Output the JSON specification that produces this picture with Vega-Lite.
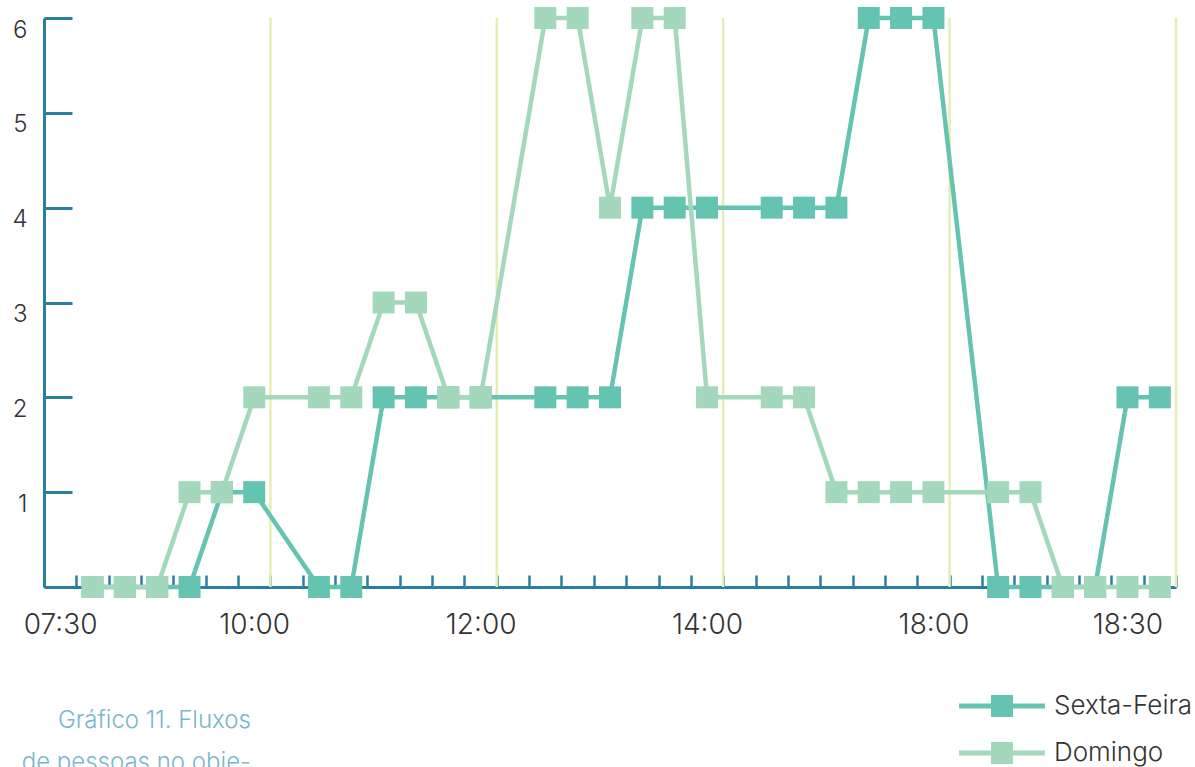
{
  "$schema": "https://vega.github.io/schema/vega-lite/v6.json",
  "width": 1132,
  "height": 569,
  "autosize": {"type": "none"},
  "padding": {"left": 44, "top": 18, "right": 19, "bottom": 180},
  "config": {
    "view": {"stroke": null},
    "font": "Inter",
    "axisX": {
      "title": null, "tickBand": "extent", "tickSize": -12, "tickWidth": 2.5,
      "tickColor": "#2a7fa0", "domainColor": "#2a7fa0", "domainWidth": 3,
      "labelAngle": 0, "labelOverlap": false,
      "labelFontSize": 28, "labelColor": "#333333", "labelFont": "Inter", "labelFontWeight": 300,
      "labelPadding": 36
    }
  },
  "title": {
    "text": ["Gráfico 11. Fluxos", "de pessoas no obje-"],
    "orient": "bottom",
    "anchor": "start",
    "align": "right",
    "dx": 239,
    "offset": -57,
    "fontSize": 24,
    "font": "Inter",
    "fontWeight": 300,
    "color": "#79b7ca",
    "lineHeight": 42
  },
  "datasets": {
    "fluxos": [
      {"dia": "Sexta-Feira", "slot": 1, "pessoas": 0},
      {"dia": "Sexta-Feira", "slot": 2, "pessoas": 0},
      {"dia": "Sexta-Feira", "slot": 3, "pessoas": 0},
      {"dia": "Sexta-Feira", "slot": 4, "pessoas": 0},
      {"dia": "Sexta-Feira", "slot": 5, "pessoas": 1},
      {"dia": "Sexta-Feira", "slot": 6, "pessoas": 1},
      {"dia": "Sexta-Feira", "slot": 8, "pessoas": 0},
      {"dia": "Sexta-Feira", "slot": 9, "pessoas": 0},
      {"dia": "Sexta-Feira", "slot": 10, "pessoas": 2},
      {"dia": "Sexta-Feira", "slot": 11, "pessoas": 2},
      {"dia": "Sexta-Feira", "slot": 12, "pessoas": 2},
      {"dia": "Sexta-Feira", "slot": 13, "pessoas": 2},
      {"dia": "Sexta-Feira", "slot": 15, "pessoas": 2},
      {"dia": "Sexta-Feira", "slot": 16, "pessoas": 2},
      {"dia": "Sexta-Feira", "slot": 17, "pessoas": 2},
      {"dia": "Sexta-Feira", "slot": 18, "pessoas": 4},
      {"dia": "Sexta-Feira", "slot": 19, "pessoas": 4},
      {"dia": "Sexta-Feira", "slot": 20, "pessoas": 4},
      {"dia": "Sexta-Feira", "slot": 22, "pessoas": 4},
      {"dia": "Sexta-Feira", "slot": 23, "pessoas": 4},
      {"dia": "Sexta-Feira", "slot": 24, "pessoas": 4},
      {"dia": "Sexta-Feira", "slot": 25, "pessoas": 6},
      {"dia": "Sexta-Feira", "slot": 26, "pessoas": 6},
      {"dia": "Sexta-Feira", "slot": 27, "pessoas": 6},
      {"dia": "Sexta-Feira", "slot": 29, "pessoas": 0},
      {"dia": "Sexta-Feira", "slot": 30, "pessoas": 0},
      {"dia": "Sexta-Feira", "slot": 31, "pessoas": 0},
      {"dia": "Sexta-Feira", "slot": 32, "pessoas": 0},
      {"dia": "Sexta-Feira", "slot": 33, "pessoas": 2},
      {"dia": "Sexta-Feira", "slot": 34, "pessoas": 2},
      {"dia": "Domingo", "slot": 1, "pessoas": 0},
      {"dia": "Domingo", "slot": 2, "pessoas": 0},
      {"dia": "Domingo", "slot": 3, "pessoas": 0},
      {"dia": "Domingo", "slot": 4, "pessoas": 1},
      {"dia": "Domingo", "slot": 5, "pessoas": 1},
      {"dia": "Domingo", "slot": 6, "pessoas": 2},
      {"dia": "Domingo", "slot": 8, "pessoas": 2},
      {"dia": "Domingo", "slot": 9, "pessoas": 2},
      {"dia": "Domingo", "slot": 10, "pessoas": 3},
      {"dia": "Domingo", "slot": 11, "pessoas": 3},
      {"dia": "Domingo", "slot": 12, "pessoas": 2},
      {"dia": "Domingo", "slot": 13, "pessoas": 2},
      {"dia": "Domingo", "slot": 15, "pessoas": 6},
      {"dia": "Domingo", "slot": 16, "pessoas": 6},
      {"dia": "Domingo", "slot": 17, "pessoas": 4},
      {"dia": "Domingo", "slot": 18, "pessoas": 6},
      {"dia": "Domingo", "slot": 19, "pessoas": 6},
      {"dia": "Domingo", "slot": 20, "pessoas": 2},
      {"dia": "Domingo", "slot": 22, "pessoas": 2},
      {"dia": "Domingo", "slot": 23, "pessoas": 2},
      {"dia": "Domingo", "slot": 24, "pessoas": 1},
      {"dia": "Domingo", "slot": 25, "pessoas": 1},
      {"dia": "Domingo", "slot": 26, "pessoas": 1},
      {"dia": "Domingo", "slot": 27, "pessoas": 1},
      {"dia": "Domingo", "slot": 29, "pessoas": 1},
      {"dia": "Domingo", "slot": 30, "pessoas": 1},
      {"dia": "Domingo", "slot": 31, "pessoas": 0},
      {"dia": "Domingo", "slot": 32, "pessoas": 0},
      {"dia": "Domingo", "slot": 33, "pessoas": 0},
      {"dia": "Domingo", "slot": 34, "pessoas": 0}
    ],
    "separadores": [
      {"slot": 7}, {"slot": 14}, {"slot": 21}, {"slot": 28}
    ],
    "fim": [
      {"slot": 34}
    ]
  },
  "encoding": {
    "x": {
      "field": "slot", "type": "ordinal", "bandPosition": 0.5,
      "scale": {"type": "band", "domain": [0,1,2,3,4,5,6,7,8,9,10,11,12,13,14,15,16,17,18,19,20,21,22,23,24,25,26,27,28,29,30,31,32,33,34], "paddingInner": 0, "paddingOuter": 0},
      "axis": {
        "labelExpr": "datum.value == 0 ? '07:30' : datum.value == 6 ? '10:00' : datum.value == 13 ? '12:00' : datum.value == 20 ? '14:00' : datum.value == 27 ? '18:00' : datum.value == 33 ? '18:30' : ''"
      }
    }
  },
  "layer": [
    {
      "data": {"name": "separadores"},
      "mark": {"type": "rule", "color": "#e4efb4", "strokeWidth": 2.5},
      "encoding": {
        "x": {
          "field": "slot", "type": "ordinal", "bandPosition": 0,
          "scale": {"type": "band", "domain": [0,1,2,3,4,5,6,7,8,9,10,11,12,13,14,15,16,17,18,19,20,21,22,23,24,25,26,27,28,29,30,31,32,33,34], "paddingInner": 0, "paddingOuter": 0},
          "axis": {
            "labelExpr": "datum.value == 0 ? '07:30' : datum.value == 6 ? '10:00' : datum.value == 13 ? '12:00' : datum.value == 20 ? '14:00' : datum.value == 27 ? '18:00' : datum.value == 33 ? '18:30' : ''"
          }
        }
      }
    },
    {
      "data": {"name": "fim"},
      "mark": {"type": "rule", "color": "#e4efb4", "strokeWidth": 2.5},
      "encoding": {
        "x": {
          "field": "slot", "type": "ordinal", "bandPosition": 1,
          "scale": {"type": "band", "domain": [0,1,2,3,4,5,6,7,8,9,10,11,12,13,14,15,16,17,18,19,20,21,22,23,24,25,26,27,28,29,30,31,32,33,34], "paddingInner": 0, "paddingOuter": 0},
          "axis": {
            "labelExpr": "datum.value == 0 ? '07:30' : datum.value == 6 ? '10:00' : datum.value == 13 ? '12:00' : datum.value == 20 ? '14:00' : datum.value == 27 ? '18:00' : datum.value == 33 ? '18:30' : ''"
          }
        }
      }
    },
    {
      "data": {"name": "fluxos"},
      "transform": [{"filter": "datum.dia === 'Sexta-Feira'"}],
      "mark": {"type": "line", "strokeWidth": 4.5, "point": {"shape": "square", "size": 484, "filled": true, "opacity": 1}},
      "encoding": {
        "y": {
          "field": "pessoas", "type": "quantitative",
          "scale": {"domain": [0, 6], "nice": false, "zero": true},
          "axis": {
            "title": null, "values": [1,2,3,4,5,6], "grid": false,
            "tickSize": -28, "tickWidth": 3, "tickColor": "#2a7fa0",
            "domainColor": "#2a7fa0", "domainWidth": 3,
            "labelFontSize": 24, "labelColor": "#333333", "labelFont": "Inter", "labelFontWeight": 300,
            "labelBaseline": "top", "labelPadding": 45
          }
        },
        "color": {
          "field": "dia", "type": "nominal",
          "scale": {"domain": ["Sexta-Feira", "Domingo"], "range": ["#65c3b1", "#a4d8bd"]},
          "legend": {
            "title": null, "orient": "none", "legendX": 945, "legendY": 675,
            "direction": "vertical",
            "symbolType": "M-3.9,-0.23H3.9V0.23H-3.9Z M-1,-1H1V1H-1Z",
            "symbolSize": 484, "symbolStrokeWidth": 0,
            "labelFontSize": 26, "labelColor": "#333333", "labelFont": "Inter", "labelFontWeight": 300,
            "labelOffset": 39, "rowPadding": 21,
            "encode": {"symbols": {"update": {"fill": {"scale": "color", "field": "value"}, "opacity": {"value": 1}}}}
          }
        }
      }
    },
    {
      "data": {"name": "fluxos"},
      "transform": [{"filter": "datum.dia === 'Domingo'"}],
      "mark": {"type": "line", "strokeWidth": 4.5, "point": {"shape": "square", "size": 484, "filled": true, "opacity": 1}},
      "encoding": {
        "y": {
          "field": "pessoas", "type": "quantitative",
          "scale": {"domain": [0, 6], "nice": false, "zero": true},
          "axis": {
            "title": null, "values": [1,2,3,4,5,6], "grid": false,
            "tickSize": -28, "tickWidth": 3, "tickColor": "#2a7fa0",
            "domainColor": "#2a7fa0", "domainWidth": 3,
            "labelFontSize": 24, "labelColor": "#333333", "labelFont": "Inter", "labelFontWeight": 300,
            "labelBaseline": "top", "labelPadding": 45
          }
        },
        "color": {
          "field": "dia", "type": "nominal",
          "scale": {"domain": ["Sexta-Feira", "Domingo"], "range": ["#65c3b1", "#a4d8bd"]},
          "legend": {
            "title": null, "orient": "none", "legendX": 945, "legendY": 675,
            "direction": "vertical",
            "symbolType": "M-3.9,-0.23H3.9V0.23H-3.9Z M-1,-1H1V1H-1Z",
            "symbolSize": 484, "symbolStrokeWidth": 0,
            "labelFontSize": 26, "labelColor": "#333333", "labelFont": "Inter", "labelFontWeight": 300,
            "labelOffset": 39, "rowPadding": 21,
            "encode": {"symbols": {"update": {"fill": {"scale": "color", "field": "value"}, "opacity": {"value": 1}}}}
          }
        }
      }
    }
  ]
}
